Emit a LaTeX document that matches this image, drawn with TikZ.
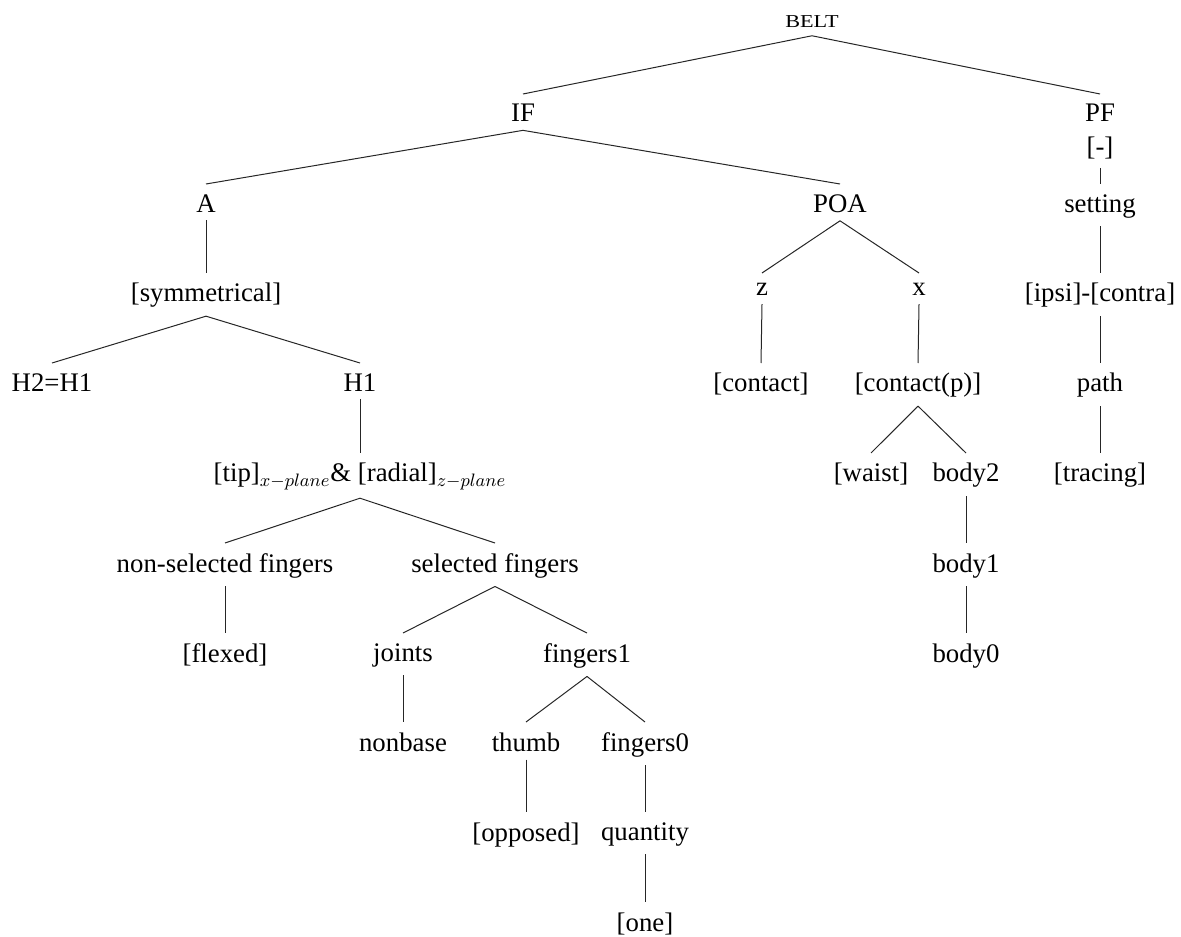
\documentclass[tikz,border=0pt]{standalone}
\usepackage{fontspec}
\setmainfont{Liberation Serif}
\usepackage{graphicx}
\begin{document}
\begin{tikzpicture}[x=0.5pt,y=-0.5pt,
  every node/.style={font=\fontsize{13.4}{15.5}\selectfont, inner sep=0pt, anchor=north},
  edge/.style={line width=0.5pt, draw=black!85}]
\useasboundingbox (0,0) rectangle (1181,936);
% nodes
\node (belt) at (812,15) {\scalebox{1.22}[1]{\fontsize{9.1}{11}\selectfont BELT}};
\node (if) at (523,104) {IF};
\node (pf) at (1100,104) {PF};
\node (pfv) at (1100,137) {[-]};
\node (a) at (206,194) {A};
\node (poa) at (840,194) {POA};
\node (set) at (1100,194) {setting};
\node (sym) at (206,283) {[symmetrical]};
\node (z) at (762,283) {z};
\node (x) at (919,283) {x};
\node (ipsi) at (1100,283) {[ipsi]-[contra]};
\node (h2) at (52,373) {H2=H1};
\node (h1) at (360,373) {H1};
\node (con) at (761,373) {[contact]};
\node (conp) at (918,373) {[contact(p)]};
\node (path) at (1100,373) {path};
\node (tip) at (360,463) {[tip]$_{x-plane}$\& [radial]$_{z-plane}$};
\node (waist) at (871,463) {[waist]};
\node (b2) at (966,463) {body2};
\node (trac) at (1100,463) {[tracing]};
\node (nsf) at (225,553) {non-selected fingers};
\node (sf) at (495,553) {selected fingers};
\node (b1) at (966,553) {body1};
\node (flex) at (225,643) {[flexed]};
\node (joints) at (403,643) {joints};
\node (f1) at (587,643) {fingers1};
\node (b0) at (966,643) {body0};
\node (nonbase) at (403,732) {nonbase};
\node (thumb) at (526,732) {thumb};
\node (f0) at (645,732) {fingers0};
\node (opp) at (526,822) {[opposed]};
\node (qty) at (645,822) {quantity};
\node (one) at (645,912) {[one]};
% edges
\foreach \p/\c in {belt/if, belt/pf, pfv/set, if/a, if/poa, set/ipsi,
  a/sym, poa/z, poa/x, ipsi/path, sym/h2, sym/h1, z/con, x/conp,
  h1/tip, conp/waist, conp/b2, path/trac, tip/nsf, tip/sf, b2/b1,
  nsf/flex, sf/joints, sf/f1, b1/b0, joints/nonbase, f1/thumb, f1/f0,
  thumb/opp, f0/qty, qty/one}
  \draw[edge] ([yshift=-4pt]\p.south) -- ([yshift=5pt]\c.north);
\end{tikzpicture}
\end{document}
